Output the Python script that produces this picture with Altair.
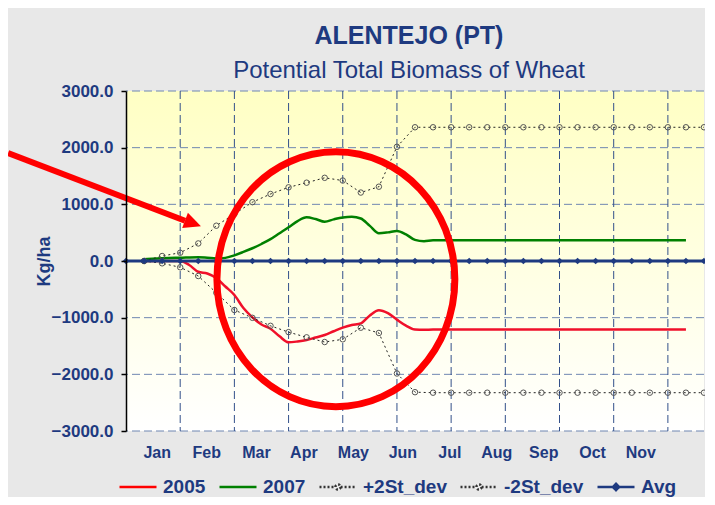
import altair as alt
import pandas as pd

NAVY = "#1E3A80"
FONT = "Liberation Sans"

# ---- axes ----
x_domain = [0, 32]
y_domain = [-3000, 3000]
y_ticks = [-3000, -2000, -1000, 0, 1000, 2000, 3000]
grid_x = [3, 6, 9, 12, 15, 18, 21, 24, 27, 30]
months = ["Jan", "Feb", "Mar", "Apr", "May", "Jun", "Jul", "Aug", "Sep", "Oct", "Nov"]
month_pos = [1.70, 4.44, 7.19, 9.82, 12.56, 15.30, 17.90, 20.50, 23.10, 25.80, 28.47]

# ---- series (dekad index) ----
avg_x = list(range(0, 33))
avg_y = [0] * 33

sd_x = list(range(1, 33))
plus2sd = [0, 88, 146, 310, 623, 830, 1038, 1182, 1300, 1382, 1468, 1420, 1208, 1311, 2015,
           2360, 2360, 2360, 2360, 2360, 2360, 2360, 2360, 2360, 2360, 2360, 2360, 2360, 2360,
           2360, 2360, 2360]
minus2sd = [0, -41, -111, -265, -560, -865, -1003, -1144, -1255, -1347, -1430, -1382, -1177,
            -1270, -1985, -2315, -2324, -2324, -2324, -2324, -2324, -2324, -2324, -2324, -2324,
            -2324, -2324, -2324, -2324, -2324, -2324, -2324]

x05 = [1, 2, 3, 3.5, 4, 4.5, 5, 5.5, 6, 6.5, 7, 7.5, 8, 8.5, 9, 9.5, 10, 10.5, 11, 11.5, 12,
       12.5, 13, 13.5, 14, 14.5, 15, 15.5, 16, 16.5, 17, 31]
y05 = [0, 0, 0, -70, -190, -220, -300, -450, -600, -830, -995, -1120, -1195, -1330, -1435,
       -1420, -1394, -1350, -1306, -1240, -1176, -1130, -1100, -960, -868, -920, -1035, -1140,
       -1210, -1215, -1210, -1210]

x07 = [1, 2, 3, 4, 4.5, 5, 5.5, 6, 6.5, 7, 7.5, 8, 8.5, 9, 9.5, 10, 10.5, 11, 11.5, 12, 12.5,
       13, 13.5, 14, 14.5, 15, 15.5, 16, 16.5, 17, 31]
y07 = [30, 47, 58, 68, 58, 45, 55, 100, 160, 225, 300, 385, 490, 595, 705, 770, 740, 694, 735,
       768, 780, 750, 620, 490, 505, 530, 470, 372, 348, 365, 365]

# ---- annotation (red ellipse + arrow), in data units ----
circle_x = [11.62]
circle_y = [-321]
arrow_x = [-6.53]
arrow_y = [1906]
arrow_x2 = [3.27]
arrow_y2 = [709]
head_x = [3.71]
head_y = [665]

legend_names = ["2005", "2007", "+2St_dev", "-2St_dev", "Avg"]

# ---- shared scales / axes ----
xs = alt.Scale(domain=x_domain, nice=False, zero=False)
ys = alt.Scale(domain=y_domain, nice=False, zero=False)

label_expr = "[" + ",".join("'%s'" % m for m in months) + "][indexof([" + \
    ",".join(str(p) for p in month_pos) + "], datum.value)]"

x_axis = alt.Axis(values=month_pos, labelExpr=label_expr, grid=False, ticks=False, domain=False,
                  labelFont=FONT, labelFontSize=16, labelFontWeight="bold", labelColor=NAVY,
                  labelPadding=13, title=None, labelFlush=False, labelOverlap=False)
y_axis = alt.Axis(values=y_ticks, format=".1f", grid=False, labelFont=FONT, labelFontSize=17,
                  labelFontWeight="bold", labelColor=NAVY, tickColor="black", tickSize=5,
                  tickWidth=1.5, domainColor="black", domainWidth=1.5, labelPadding=8,
                  title="Kg/ha", titleFont=FONT, titleFontSize=18, titleFontWeight="bold",
                  titleColor=NAVY, titlePadding=-2, zindex=1)


def X(f="x"):
    return alt.X(f, type="quantitative", scale=xs, axis=x_axis)


def Y(f="y"):
    return alt.Y(f, type="quantitative", scale=ys, axis=y_axis)


bg_df = pd.DataFrame({"x": [x_domain[0]], "x2": [x_domain[1]], "y": [y_domain[0]], "y2": [y_domain[1]]})
bg = alt.Chart(bg_df).mark_rect(
    color=alt.LinearGradient(gradient="linear",
                             stops=[alt.GradientStop(color="#FFFFC4", offset=0),
                                    alt.GradientStop(color="#FFFFFF", offset=1)],
                             x1=0, x2=0, y1=0, y2=1)
).encode(x=X(), x2="x2", y=Y(), y2="y2")

hgrid = alt.Chart(pd.DataFrame({"y": y_ticks})).mark_rule(
    color="#6F86B1", strokeWidth=1, strokeDash=[8, 4]).encode(y=Y())
vgrid = alt.Chart(pd.DataFrame({"x": grid_x})).mark_rule(
    color="#33508A", strokeWidth=1, strokeDash=[8, 4]).encode(x=X())

l05 = alt.Chart(pd.DataFrame({"x": x05, "y": y05})).mark_line(
    color="#F0102A", strokeWidth=2.5, interpolate="monotone").encode(x=X(), y=Y())
l07 = alt.Chart(pd.DataFrame({"x": x07, "y": y07})).mark_line(
    color="#008000", strokeWidth=2.5, interpolate="monotone").encode(x=X(), y=Y())

psd_df = pd.DataFrame({"x": sd_x, "y": plus2sd})
msd_df = pd.DataFrame({"x": sd_x, "y": minus2sd})
psd_l = alt.Chart(psd_df).mark_line(color="#222222", strokeWidth=1, strokeDash=[2, 3]).encode(x=X(), y=Y())
psd_p = alt.Chart(psd_df).mark_point(shape="circle", size=30, filled=False, color="#555555",
                                     strokeWidth=1, opacity=1).encode(x=X(), y=Y())
msd_l = alt.Chart(msd_df).mark_line(color="#222222", strokeWidth=1, strokeDash=[2, 3]).encode(x=X(), y=Y())
msd_p = alt.Chart(msd_df).mark_point(shape="circle", size=30, filled=False, color="#555555",
                                     strokeWidth=1, opacity=1).encode(x=X(), y=Y())

avg_df = pd.DataFrame({"x": avg_x, "y": avg_y})
avg_l = alt.Chart(avg_df).mark_line(color=NAVY, strokeWidth=3).encode(x=X(), y=Y())
avg_p = alt.Chart(avg_df).mark_point(shape="diamond", size=45, filled=True, color=NAVY,
                                     opacity=1).encode(x=X(), y=Y())

ellipse = "M-0.933,0A0.933,1 0 1,0 0.933,0A0.933,1 0 1,0 -0.933,0Z"
circ = alt.Chart(pd.DataFrame({"x": circle_x, "y": circle_y})).mark_point(
    shape=ellipse, size=65025, filled=False, stroke="#FF0000", strokeWidth=7, opacity=1
).encode(x=X(), y=Y())

arrow = alt.Chart(pd.DataFrame({"x": arrow_x, "y": arrow_y, "x2": arrow_x2, "y2": arrow_y2})).mark_rule(
    color="#FF0000", strokeWidth=6).encode(x=X(), y=Y(), x2="x2", y2="y2")
head = alt.Chart(pd.DataFrame({"x": head_x, "y": head_y})).mark_point(
    shape="M1,0L-1,-0.95L-1,0.95Z", size=289, filled=True, color="#FF0000", opacity=1, angle=20.6
).encode(x=X(), y=Y())

sym_line = "M-1,0L1,0"
sym_circ = "M-1,0L-0.14,0M0.14,0L1,0M0.14,0A0.14,0.14 0 1,1 -0.14,0A0.14,0.14 0 1,1 0.14,0"
sym_diam = "M-1,0L1,0M-0.17,0L0,-0.17L0.17,0L0,0.17Z"

leg = alt.Chart(pd.DataFrame({"series": legend_names})).mark_point(filled=False, opacity=1).encode(
    color=alt.Color("series:N", title=None,
                    scale=alt.Scale(domain=legend_names,
                                    range=["#FF0000", "#008000", "#333333", "#333333", NAVY])),
    shape=alt.Shape("series:N", title=None,
                    scale=alt.Scale(domain=legend_names,
                                    range=[sym_line, sym_line, sym_circ, sym_circ, sym_diam])),
    strokeDash=alt.StrokeDash("series:N", title=None,
                              scale=alt.Scale(domain=legend_names,
                                              range=[[1, 0], [1, 0], [2, 2], [2, 2], [1, 0]])),
    strokeWidth=alt.StrokeWidth("series:N", title=None,
                                scale=alt.Scale(domain=legend_names,
                                                range=[2.5, 2.5, 1, 1, 2.5])),
).transform_filter("false")

chart = alt.layer(
    bg, hgrid, vgrid, l05, l07, psd_l, psd_p, msd_l, msd_p, avg_l, avg_p, circ, arrow, head, leg
).properties(
    width=578, height=340,
    padding={"left": 118, "top": 83, "right": 1, "bottom": 66},
    autosize=alt.AutoSizeParams(type="none"),
    background="#E8E8E8",
    title=alt.TitleParams(
        text="ALENTEJO (PT)", subtitle="Potential Total Biomass of Wheat",
        font=FONT, fontSize=25, fontWeight="bold", color=NAVY,
        subtitleFont=FONT, subtitleFontSize=24, subtitleFontWeight="normal", subtitleColor=NAVY,
        anchor="middle", frame="group", offset=-1, subtitlePadding=10, dx=-6),
).configure_view(stroke=None).configure_legend(
    orient="none", legendX=-8, legendY=376, direction="horizontal", columns=5,
    labelFont=FONT, labelFontSize=19, labelFontWeight="bold", labelColor=NAVY,
    labelOffset=5, columnPadding=8, padding=0, symbolSize=1369, labelLimit=300,
)

chart.save("out.html", embed_options={"renderer": "svg", "actions": False})
